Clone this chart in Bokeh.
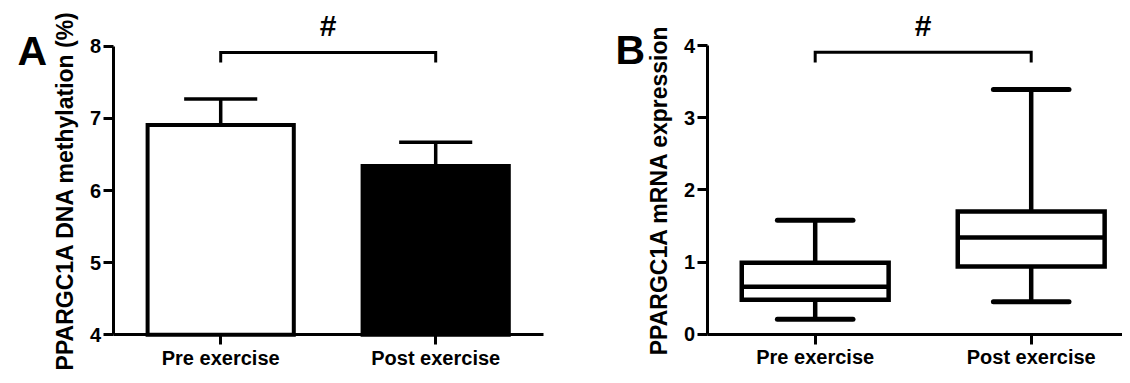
from bokeh.plotting import figure
from bokeh.models import Range1d, FixedTicker, LinearAxis
from bokeh.core.properties import value
from bokeh.layouts import row
from bokeh.embed import file_html
from bokeh.resources import INLINE

# ---------------- data ----------------
groups = ["Pre exercise", "Post exercise"]

# Panel A: DNA methylation (%), mean and SEM
meth_mean = [6.91, 6.34]
meth_err = [0.36, 0.33]
bar_fill = ["white", "black"]
a_ticks = [4, 5, 6, 7, 8]

# Panel B: mRNA expression box plot (min, q1, median, q3, max)
expr_min = [0.21, 0.45]
expr_q1 = [0.48, 0.94]
expr_med = [0.66, 1.34]
expr_q3 = [0.99, 1.70]
expr_max = [1.58, 3.39]
b_ticks = [0, 1, 2, 3, 4]

sig_mark = "#"
panel_letters = ["A", "B"]
bracket_a = 7.915
bracket_b = 3.905

FONT = "Liberation Sans"
H = 375
xs = list(range(len(groups)))


def make_axes(p, xbounds, ybounds, yticks, ylabel):
    xa = LinearAxis(fixed_location=ybounds[0], bounds=xbounds)
    ya = LinearAxis(fixed_location=xbounds[0], bounds=ybounds)
    xa.ticker = FixedTicker(ticks=xs)
    xa.major_label_overrides = {i: g for i, g in zip(xs, groups)}
    ya.ticker = FixedTicker(ticks=yticks)
    for ax in (xa, ya):
        ax.axis_line_width = 3
        ax.axis_line_color = "black"
        ax.major_tick_line_width = 3
        ax.major_tick_line_color = "black"
        ax.major_tick_out = 10
        ax.major_tick_in = 0
        ax.minor_tick_line_color = None
        ax.major_label_text_font = FONT
        ax.major_label_text_font_style = "bold"
        ax.major_label_text_font_size = "20px"
        ax.major_label_text_color = "black"
        ax.major_label_standoff = 2
    ya.axis_label = ylabel
    ya.axis_label_text_font = FONT
    ya.axis_label_text_font_style = "bold"
    ya.axis_label_text_font_size = "23px"
    ya.axis_label_text_color = "black"
    ya.axis_label_standoff = 9
    p.add_layout(xa, "below")
    p.add_layout(ya, "left")


def base_fig(width, xr, yr):
    p = figure(width=width, height=H, x_range=Range1d(*xr), y_range=Range1d(*yr),
               x_axis_type=None, y_axis_type=None,
               output_backend="svg", toolbar_location=None,
               min_border_left=0, min_border_right=0, min_border_top=0, min_border_bottom=0)
    p.xgrid.visible = False
    p.ygrid.visible = False
    p.outline_line_color = None
    p.background_fill_color = "white"
    p.border_fill_color = "white"
    return p


def bracket(p, y, drop):
    p.line(x=[xs[0], xs[0], xs[1], xs[1]], y=[y - drop, y, y, y - drop],
           line_color="black", line_width=3, line_join="miter")


def marks(p, sig_y, letter, lx, ly):
    p.text(x=[0.5], y=[sig_y], text=[sig_mark], text_align="center", text_baseline="middle",
           text_font=value(FONT), text_font_style="bold", text_font_size="30px",
           text_color="black")
    p.text(x=[lx], y=[ly], text=[letter], text_align="left", text_baseline="middle",
           text_font=value(FONT), text_font_style="bold", text_font_size="41px",
           text_color="black")


# ---------------- panel A ----------------
pA = base_fig(568, (-1.0242, 1.6177), (3.4355, 8.6366))
make_axes(pA, (-0.5, 1.5), (4, 8), a_ticks, "PPARGC1A DNA methylation (%)")

pA.vbar(x=xs, width=0.68, bottom=4, top=meth_mean, fill_color=bar_fill,
        line_color="black", line_width=4, line_join="miter")
tops = [m + e for m, e in zip(meth_mean, meth_err)]
pA.segment(x0=xs, y0=meth_mean, x1=xs, y1=tops, line_color="black", line_width=3.5)
pA.segment(x0=[x - 0.17 for x in xs], y0=tops, x1=[x + 0.17 for x in xs], y1=tops,
           line_color="black", line_width=3.5)
bracket(pA, bracket_a, 0.14)
marks(pA, 8.29, panel_letters[0], -0.945, 7.943)

# ---------------- panel B ----------------
pB = base_fig(554, (-1.1421, 1.4227), (-0.5706, 4.6233))
make_axes(pB, (-0.5, 1.4227), (0, 4), b_ticks, "PPARGC1A mRNA expression")

hw = 0.34
cw = 0.175
pB.segment(x0=xs, y0=expr_q3, x1=xs, y1=expr_max, line_color="black", line_width=4.5)
pB.segment(x0=xs, y0=expr_min, x1=xs, y1=expr_q1, line_color="black", line_width=4.5)
pB.segment(x0=[x - cw for x in xs], y0=expr_max, x1=[x + cw for x in xs], y1=expr_max,
           line_color="black", line_width=5, line_cap="round")
pB.segment(x0=[x - cw for x in xs], y0=expr_min, x1=[x + cw for x in xs], y1=expr_min,
           line_color="black", line_width=5, line_cap="round")
pB.quad(left=[x - hw for x in xs], right=[x + hw for x in xs], bottom=expr_q1, top=expr_q3,
        fill_color="white", line_color="black", line_width=4.5, line_join="miter")
pB.segment(x0=[x - hw for x in xs], y0=expr_med, x1=[x + hw for x in xs], y1=expr_med,
           line_color="black", line_width=4.5)
bracket(pB, bracket_b, 0.14)
marks(pB, 4.28, panel_letters[1], -0.925, 3.931)

layout = row(pA, pB)
open("out.html", "w").write(file_html(layout, INLINE))
